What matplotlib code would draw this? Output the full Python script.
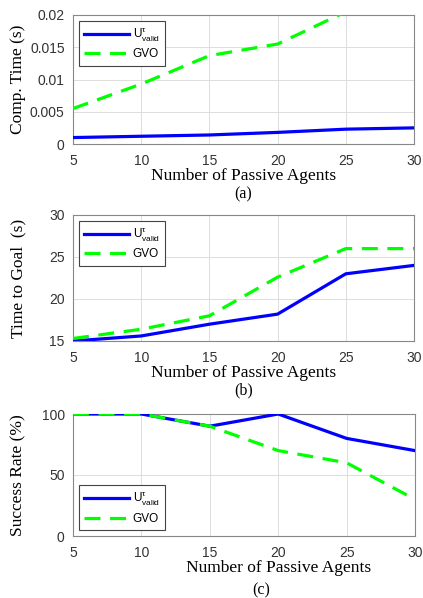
import matplotlib
matplotlib.use("Agg")
from matplotlib import pyplot as plt
import numpy as np

agents = [5, 10, 15, 20, 25, 30]

# (a) computation time
comp_valid = [0.0010, 0.0012, 0.0014, 0.0018, 0.0023, 0.0025]
comp_gvo = [0.0055, 0.0093, 0.0137, 0.0155, 0.0205, 0.0235]

# (b) time to goal
goal_valid = [15.0, 15.6, 17.0, 18.2, 23.0, 24.0]
goal_gvo = [15.3, 16.4, 18.0, 22.6, 26.0, 26.0]

# (c) success rate
succ_valid = [100, 100, 90, 100, 80, 70]
succ_gvo = [100, 100, 90, 70, 60, 30]

W, H = 423, 598
serif = "Liberation Serif"
sans = "Liberation Sans"
label_valid = r"$\mathregular{U^{\tau}_{valid}}$"


def panel(fig, box, yv, yg, ylim, yticks, yticklabels, ylabel, tag, legloc):
    l, t, r, b = box
    ax = fig.add_axes([l / W, 1 - b / H, (r - l) / W, (b - t) / H])
    ax.plot(agents, yv, color=(0, 0, 1), lw=2.3, label=label_valid, zorder=3)
    ax.plot(agents, yg, color=(0, 1, 0), lw=2.3, ls=(0, (5, 3)), label="GVO", zorder=4)
    ax.set_xlim(5, 30)
    ax.set_ylim(*ylim)
    ax.set_xticks(agents)
    ax.set_yticks(yticks)
    ax.set_yticklabels(yticklabels)
    ax.grid(True, color="#dddddd", lw=0.7)
    for s in ax.spines.values():
        s.set_color("#888888")
    ax.tick_params(axis="x", length=0, labelsize=10, colors="#333333", pad=7)
    ax.tick_params(axis="y", length=0, labelsize=10, colors="#333333", pad=6)
    for lab in ax.get_xticklabels() + ax.get_yticklabels():
        lab.set_fontfamily(sans)
    ax.set_xlabel("Number of Passive Agents", fontfamily=serif, fontsize=12.5, labelpad=0)
    ax.set_ylabel(ylabel, fontfamily=serif, fontsize=12.5, va="center")
    # all y labels sit on the same column, about 18 px from the left edge
    ax.yaxis.set_label_coords((18 - l) / (r - l), 0.5)
    leg = ax.legend(loc=legloc, prop={"family": sans, "size": 8.5}, fancybox=False,
                    edgecolor="#444444", framealpha=1, handlelength=3.8, borderpad=0.45,
                    labelspacing=0.4, handletextpad=0.3)
    leg.get_frame().set_linewidth(0.8)
    ax.text(0.5, 0, tag, transform=ax.transAxes, fontfamily=serif, fontsize=11.5,
            ha="center", va="top")
    return ax


fig = plt.figure(figsize=(W / 100, H / 100), dpi=100)

a = panel(fig, (73, 15, 414, 144), comp_valid, comp_gvo, (0, 0.02),
          [0, 0.005, 0.01, 0.015, 0.02], ["0", "0.005", "0.01", "0.015", "0.02"],
          "Comp. Time (s)", "(a)", "upper left")
a.texts[0].set_position((0.5, -0.33))

b = panel(fig, (73, 215, 414, 341), goal_valid, goal_gvo, (15, 30),
          [15, 20, 25, 30], ["15", "20", "25", "30"],
          "Time to Goal  (s)", "(b)", "upper left")
b.texts[0].set_position((0.5, -0.33))

c = panel(fig, (73, 414, 415, 536), succ_valid, succ_gvo, (0, 100),
          [0, 50, 100], ["0", "50", "100"],
          "Success Rate (%)", "(c)", "lower left")
c.texts[0].set_position((0.55, -0.38))
c.xaxis.label.set_position((0.6, 0))

fig.savefig("out.png", dpi=100)
